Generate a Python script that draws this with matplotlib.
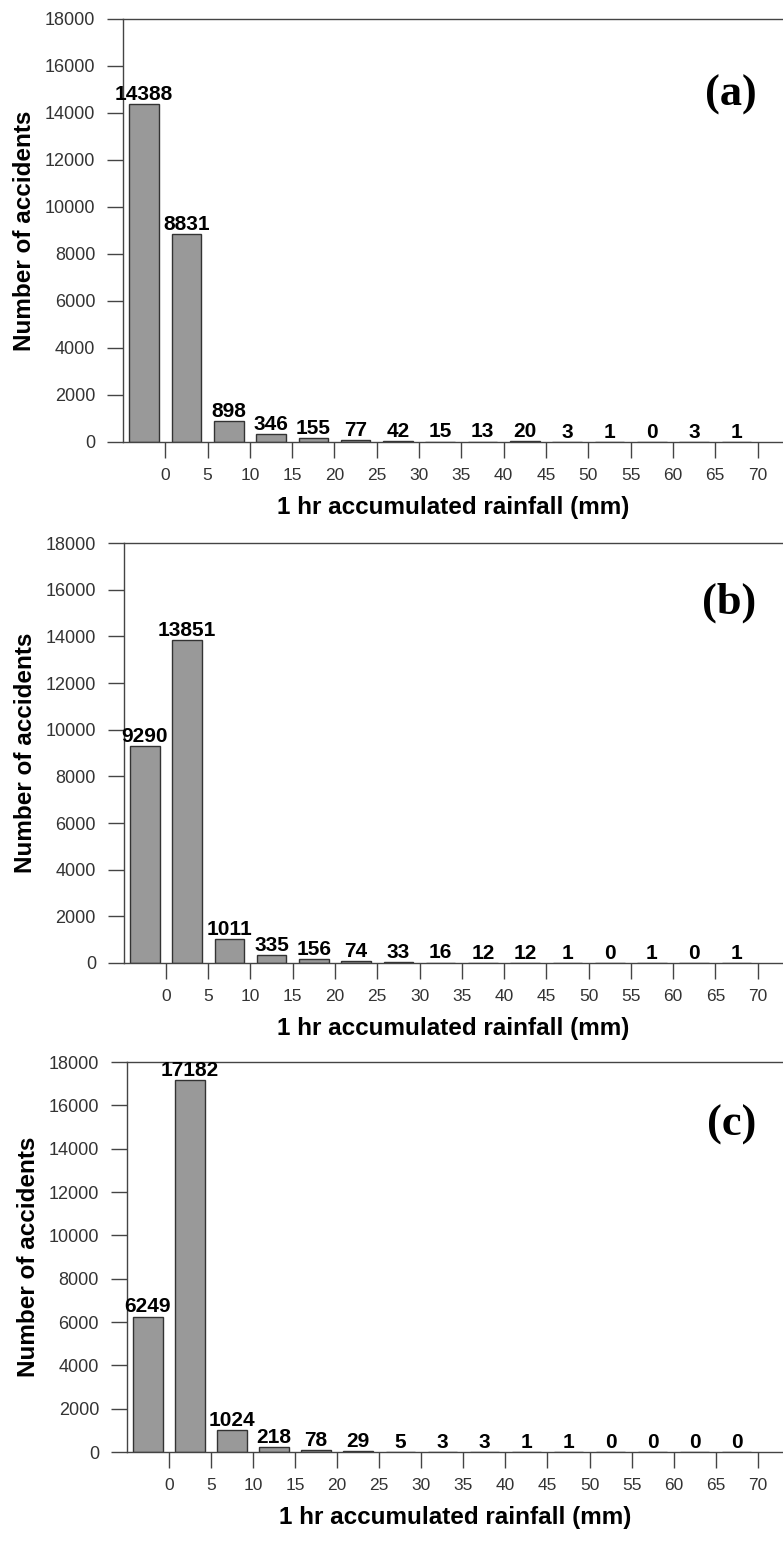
import numpy as np
import matplotlib.pyplot as plt

# datos: numero de accidentes por intervalo de lluvia acumulada en 1 hr
etiquetas_x = [0, 5, 10, 15, 20, 25, 30, 35, 40, 45, 50, 55, 60, 65, 70]
centros = [-2.5, 2.5, 7.5, 12.5, 17.5, 22.5, 27.5, 32.5, 37.5, 42.5, 47.5, 52.5, 57.5, 62.5, 67.5]
acc_a = [14388, 8831, 898, 346, 155, 77, 42, 15, 13, 20, 3, 1, 0, 3, 1]
acc_b = [9290, 13851, 1011, 335, 156, 74, 33, 16, 12, 12, 1, 0, 1, 0, 1]
acc_c = [6249, 17182, 1024, 218, 78, 29, 5, 3, 3, 1, 1, 0, 0, 0, 0]
paneles = ['(a)', '(b)', '(c)']

plt.rcParams['font.family'] = ['Liberation Sans', 'DejaVu Sans']

fig = plt.figure(figsize=(7.83, 15.6), dpi=100)

# posiciones de los ejes [izq, abajo, ancho, alto] en fraccion de figura
cajas = [[0.157, 0.7167, 0.843, 0.2712],
         [0.158, 0.3827, 0.842, 0.2692],
         [0.162, 0.0692, 0.838, 0.2500]]
pos_letra = [0.82, 0.857, 0.84]

for caja, datos, letra, yl in zip(cajas, [acc_a, acc_b, acc_c], paneles, pos_letra):
    ax = fig.add_axes(caja)
    ax.bar(centros, datos, width=3.5, color='#999999', edgecolor='#333333', linewidth=1.0)

    # valores encima de cada barra
    for xc, v in zip(centros, datos):
        ax.annotate(str(v), (xc, v), xytext=(0, 3), textcoords='offset points',
                    ha='center', va='baseline', fontsize=15, fontweight='bold')

    ax.set_xlim(-5, 73)
    ax.set_ylim(0, 18000)
    ax.set_yticks(np.arange(0, 18001, 2000))
    ax.set_xticks(etiquetas_x)

    ax.spines['right'].set_visible(False)
    for s in ['left', 'bottom', 'top']:
        ax.spines[s].set_color('#444444')
        ax.spines[s].set_linewidth(1.0)

    ax.tick_params(axis='y', direction='out', length=11.5, width=1, pad=8.5,
                   labelsize=13, color='#444444', labelcolor='#333333')
    ax.tick_params(axis='x', direction='out', length=11.5, width=1, pad=7.5,
                   labelsize=12.5, color='#444444', labelcolor='#333333')

    ax.set_xlabel('1 hr accumulated rainfall (mm)', fontsize=17.5, fontweight='bold', labelpad=9)
    ax.set_ylabel('Number of accidents', fontsize=17.5, fontweight='bold', labelpad=6)

    ax.text(0.96, yl, letra, transform=ax.transAxes, ha='right', va='center',
            fontsize=32, fontweight='bold', family=['Liberation Serif', 'DejaVu Serif'])

fig.savefig('out.png', dpi=100)
